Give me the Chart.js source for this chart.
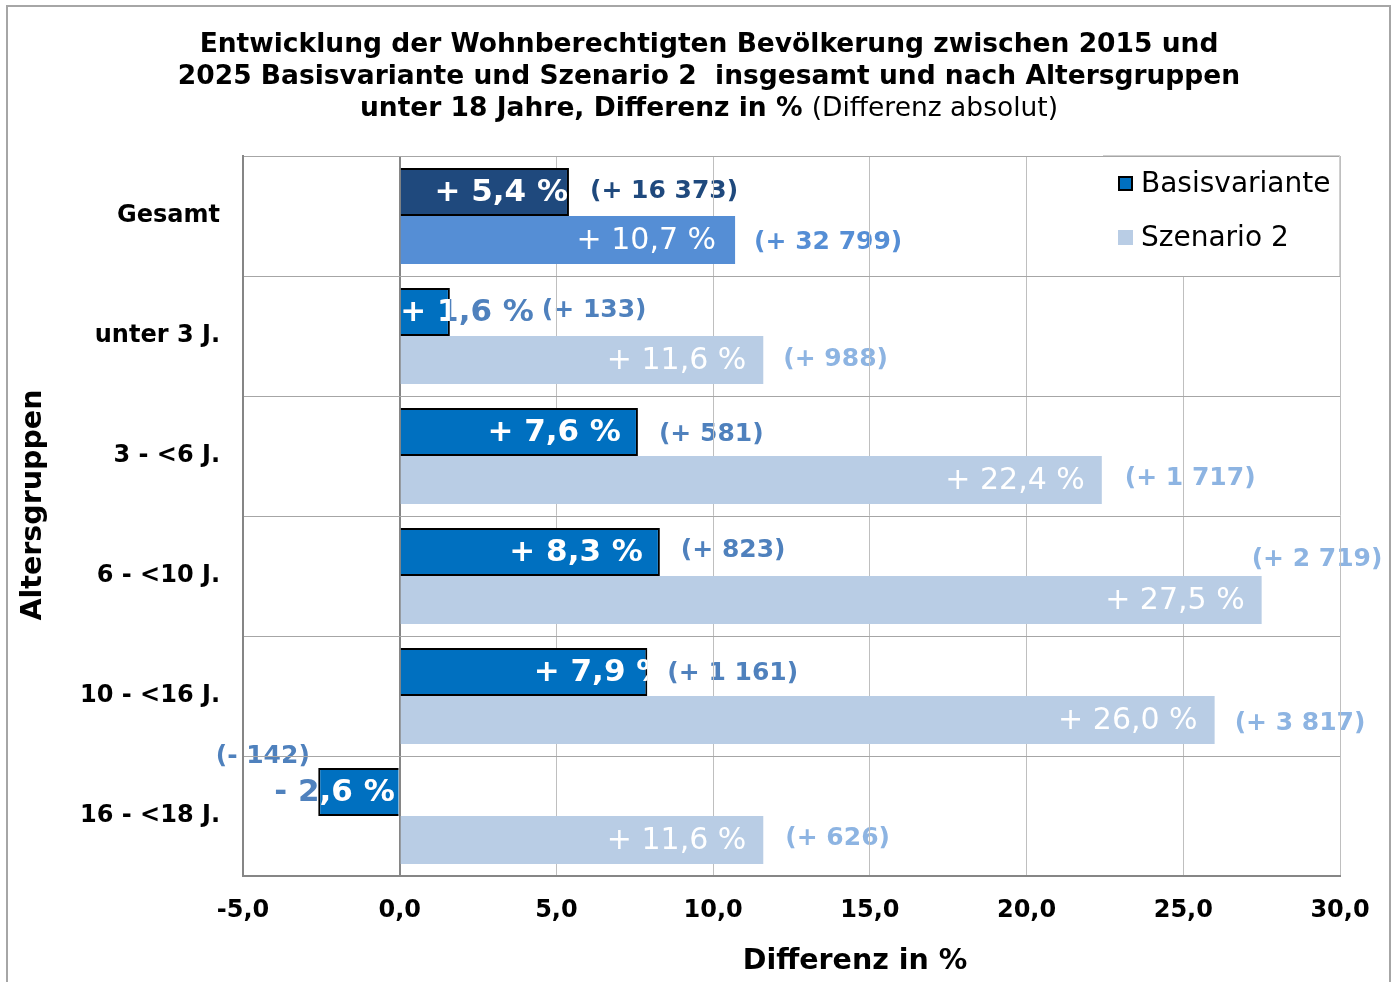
<!DOCTYPE html>
<html>
<head>
<meta charset="utf-8">
<script src="https://cdn.jsdelivr.net/npm/chart.js@4.4.1/dist/chart.umd.min.js"></script>
<style>
  html, body { margin: 0; padding: 0; background: #fff; }
  canvas { display: block; }
</style>
</head>
<body>
<canvas id="chart" width="1395" height="982"></canvas>
<script>
// values
const categories = ['Gesamt', 'unter 3 J.', '3 - <6 J.', '6 - <10 J.', '10 - <16 J.', '16 - <18 J.'];
const basisvariante = [5.4, 1.6, 7.6, 8.3, 7.9, -2.6];
const szenario2 = [10.7, 11.6, 22.4, 27.5, 26.0, 11.6];
const basisAbsolut = ['+ 16 373', '+ 133', '+ 581', '+ 823', '+ 1 161', '- 142'];
const szenarioAbsolut = ['+ 32 799', '+ 988', '+ 1 717', '+ 2 719', '+ 3 817', '+ 626'];
const xTicks = [-5, 0, 5, 10, 15, 20, 25, 30];

const titleLines = [
  'Entwicklung der Wohnberechtigten Bevölkerung zwischen 2015 und',
  '2025 Basisvariante und Szenario 2  insgesamt und nach Altersgruppen'
];
const titleBold = 'unter 18 Jahre, Differenz in % ';
const titleNormal = '(Differenz absolut)';

const FONT = "'DejaVu Sans', Verdana, sans-serif";

const fmtPct = v => (v < 0 ? '- ' : '+ ') + Math.abs(v).toFixed(1).replace('.', ',') + ' %';
const fmtTick = v => v.toFixed(1).replace('.', ',');

// label placement per dataset (pixel nudges, like the hand-placed labels in the original)
const labelStyle = [
  {
    inFont: 'bold 31px ' + FONT,
    inDx: [-1, 84, -17, -17, 20, -4],
    spill: [null, '#4F81BD', null, null, null, '#4F81BD'],
    outFont: 'bold 25px ' + FONT,
    outColor: ['#1F497D', '#4F81BD', '#4F81BD', '#4F81BD', '#4F81BD', '#4F81BD'],
    outDx: [21, 92, 21, 21, 20, -183],
    outDy: [-1, -2, 2, -2, 1, -36],
    texts: basisAbsolut
  },
  {
    inFont: '30px ' + FONT,
    inDx: [-19, -17, -17, -17, -17, -17],
    spill: [null, null, null, null, null, null],
    outFont: 'bold 25px ' + FONT,
    outColor: ['#558ED5', '#8DB4E2', '#8DB4E2', '#8DB4E2', '#8DB4E2', '#8DB4E2'],
    outDx: [19, 20, 23, -10, 20, 22],
    outDy: [2, -1, -2, -41, 3, -2],
    texts: szenarioAbsolut
  }
];

const barLabels = {
  id: 'barLabels',
  beforeDraw(chart) {
    // absolute numbers, drawn first so the grid runs over them as in the original
    const ctx = chart.ctx;
    chart.data.datasets.forEach((ds, di) => {
      const st = labelStyle[di];
      chart.getDatasetMeta(di).data.forEach((bar, i) => {
        const { x, y, base } = bar.getProps(['x', 'y', 'base'], true);
        const right = Math.max(x, base);
        ctx.save();
        ctx.font = st.outFont;
        ctx.fillStyle = st.outColor[i];
        ctx.textAlign = 'left';
        ctx.textBaseline = 'middle';
        ctx.fillText('(' + st.texts[i] + ')', right + st.outDx[i], y + st.outDy[i]);
        ctx.restore();
      });
    });
  },
  afterDatasetsDraw(chart) {
    const ctx = chart.ctx;
    chart.data.datasets.forEach((ds, di) => {
      const st = labelStyle[di];
      chart.getDatasetMeta(di).data.forEach((bar, i) => {
        const { x, y, base, height } = bar.getProps(['x', 'y', 'base', 'height'], true);
        const right = Math.max(x, base), left = Math.min(x, base);
        const text = fmtPct(ds.data[i]);
        const tx = right + st.inDx[i];
        ctx.save();
        ctx.font = st.inFont;
        ctx.textAlign = 'right';
        ctx.textBaseline = 'middle';
        if (st.spill[i]) {
          ctx.fillStyle = st.spill[i];
          ctx.fillText(text, tx, y + 1);
        }
        ctx.beginPath();
        ctx.rect(left, y - height / 2, right - left, height);
        ctx.clip();
        ctx.fillStyle = '#fff';
        ctx.fillText(text, tx, y + 1);
        ctx.restore();
      });
    });
  }
};

const legendBox = {
  id: 'legendBox',
  beforeDatasetsDraw(chart) {
    const ctx = chart.ctx;
    const a = chart.chartArea;
    const x0 = 1103, y0 = a.top + 1, w = a.right - 1 - x0, h = 119;
    ctx.save();
    ctx.fillStyle = '#fff';
    ctx.fillRect(x0, y0, w, h);
    ctx.strokeStyle = '#D0D0D0';
    ctx.lineWidth = 1;
    ctx.beginPath();
    ctx.moveTo(x0, a.top - 0.5);
    ctx.lineTo(a.right, a.top - 0.5);
    ctx.moveTo(a.right - 0.5, a.top);
    ctx.lineTo(a.right - 0.5, y0 + h);
    ctx.stroke();
    const items = [
      { text: chart.data.datasets[0].label, fill: '#0070C0', border: '#000', y: 184 },
      { text: chart.data.datasets[1].label, fill: '#B9CDE5', border: null, y: 238 }
    ];
    ctx.font = '28px ' + FONT;
    ctx.textBaseline = 'middle';
    ctx.textAlign = 'left';
    items.forEach(it => {
      ctx.fillStyle = it.fill;
      ctx.fillRect(1118, it.y - 8, 15, 15);
      if (it.border) {
        ctx.strokeStyle = it.border;
        ctx.lineWidth = 2;
        ctx.strokeRect(1119, it.y - 7, 13, 13);
      }
      ctx.fillStyle = '#000';
      ctx.fillText(it.text, 1141, it.y + 1);
    });
    ctx.restore();
  }
};

const decorations = {
  id: 'decorations',
  afterDraw(chart) {
    const ctx = chart.ctx;
    ctx.save();
    // outer frame
    ctx.strokeStyle = '#A6A6A6';
    ctx.lineWidth = 2;
    ctx.strokeRect(7, 6, 1383, 1010);

    // title
    ctx.fillStyle = '#000';
    ctx.textBaseline = 'middle';
    ctx.textAlign = 'center';
    ctx.font = 'bold 26.5px ' + FONT;
    ctx.fillText(titleLines[0], 709, 45);
    ctx.fillText(titleLines[1], 709, 77);
    const wb = ctx.measureText(titleBold).width;
    ctx.font = '26.5px ' + FONT;
    const wn = ctx.measureText(titleNormal).width;
    const start = 709 - (wb + wn) / 2;
    ctx.textAlign = 'left';
    ctx.font = 'bold 26.5px ' + FONT;
    ctx.fillText(titleBold, start, 109);
    ctx.font = '26.5px ' + FONT;
    ctx.fillText(titleNormal, start + wb, 109);

    // axis titles
    ctx.font = 'bold 28.5px ' + FONT;
    ctx.textAlign = 'center';
    ctx.fillText('Differenz in %', 855, 962);
    ctx.translate(34, 505);
    ctx.rotate(-Math.PI / 2);
    ctx.fillText('Altersgruppen', 0, 0);
    ctx.restore();
  }
};

new Chart(document.getElementById('chart'), {
  type: 'bar',
  data: {
    labels: categories,
    datasets: [
      {
        label: 'Basisvariante',
        data: basisvariante,
        backgroundColor: basisvariante.map((v, i) => i === 0 ? '#1F497D' : '#0070C0'),
        borderColor: '#000',
        borderWidth: 2,
        categoryPercentage: 0.8,
        barPercentage: 1.0
      },
      {
        label: 'Szenario 2',
        data: szenario2,
        backgroundColor: szenario2.map((v, i) => i === 0 ? '#558ED5' : '#B9CDE5'),
        borderWidth: 0,
        categoryPercentage: 0.8,
        barPercentage: 1.0
      }
    ]
  },
  options: {
    indexAxis: 'y',
    responsive: false,
    animation: false,
    devicePixelRatio: 1,
    layout: { padding: { top: 156, right: 55, left: 0, bottom: 0 } },
    scales: {
      x: {
        type: 'linear',
        min: xTicks[0],
        max: xTicks[xTicks.length - 1],
        afterBuildTicks: s => { s.ticks = xTicks.map(v => ({ value: v })); },
        afterFit: s => { s.height = 106; },
        ticks: {
          callback: v => fmtTick(v),
          color: '#000',
          padding: 20,
          maxRotation: 0,
          font: { family: FONT, size: 24, weight: 'bold' }
        },
        grid: {
          drawTicks: false,
          color: c => c.tick && c.tick.value === 0 ? '#868686' : '#BFBFBF',
          lineWidth: c => c.tick && c.tick.value === 0 ? 2 : 1
        },
        border: { color: '#868686', width: 2 }
      },
      y: {
        afterFit: s => { s.width = 243; },
        ticks: {
          color: '#000',
          padding: 23,
          font: { family: FONT, size: 24, weight: 'bold' }
        },
        grid: {
          drawTicks: false,
          offset: true,
          color: '#A6A6A6',
          lineWidth: 1
        },
        border: { color: '#868686', width: 2 }
      }
    },
    plugins: {
      legend: { display: false },
      title: { display: false },
      tooltip: { enabled: false }
    }
  },
  plugins: [barLabels, legendBox, decorations]
});
</script>
</body>
</html>
